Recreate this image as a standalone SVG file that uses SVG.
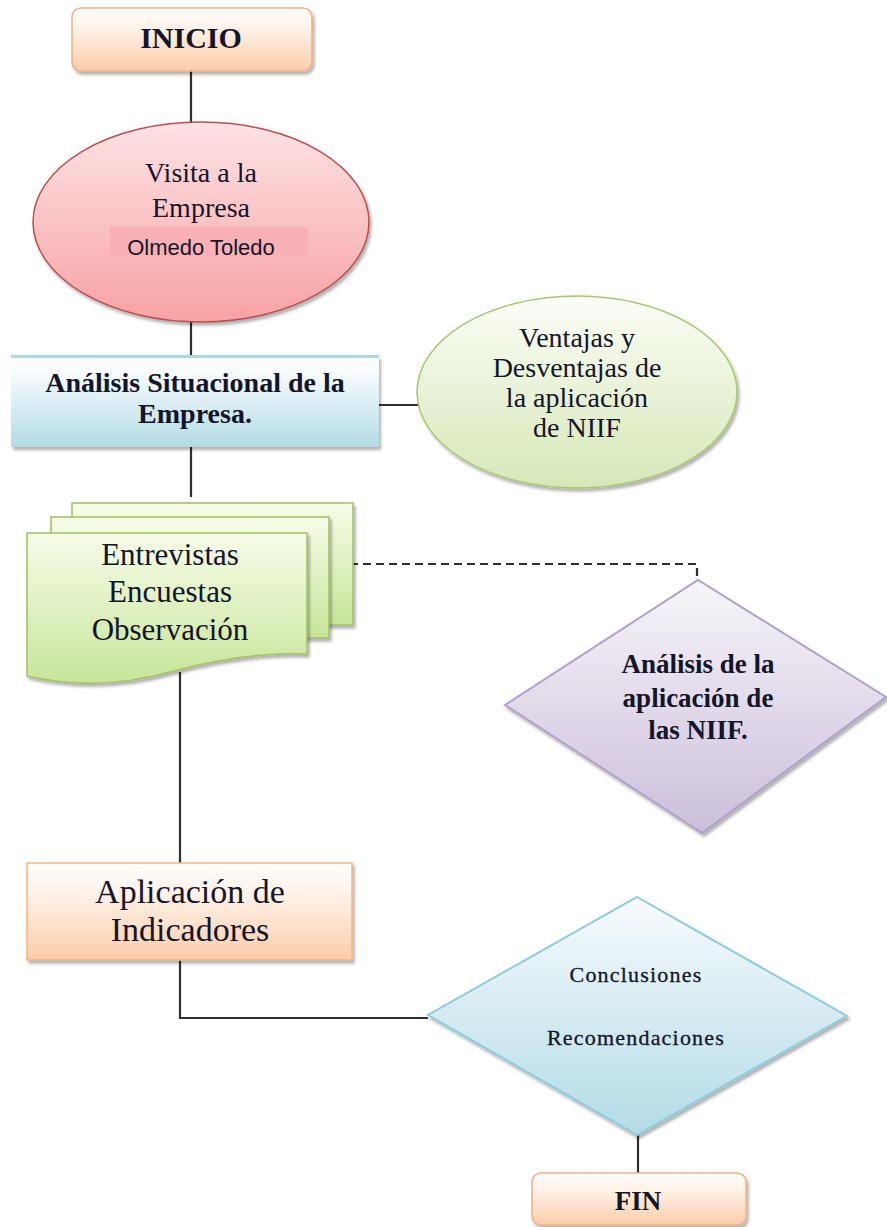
<svg xmlns="http://www.w3.org/2000/svg" width="887" height="1227" viewBox="0 0 887 1227">
<defs>
<linearGradient id="gOrange" x1="0" y1="0" x2="0" y2="1"><stop offset="0" stop-color="#fffdfb"/><stop offset="0.3" stop-color="#fff3ea"/><stop offset="1" stop-color="#fbcda9"/></linearGradient>
<linearGradient id="gPink" x1="0" y1="0" x2="0" y2="1"><stop offset="0" stop-color="#fde3e5"/><stop offset="1" stop-color="#f8a2a4"/></linearGradient>
<linearGradient id="gBlue" x1="0" y1="0" x2="0" y2="1"><stop offset="0" stop-color="#ffffff"/><stop offset="0.15" stop-color="#fafdfe"/><stop offset="1" stop-color="#b2dbe6"/></linearGradient>
<linearGradient id="gGreenE" x1="0" y1="0" x2="0" y2="1"><stop offset="0" stop-color="#fbfdf7"/><stop offset="1" stop-color="#d6e8b7"/></linearGradient>
<linearGradient id="gDoc" x1="0" y1="0" x2="0" y2="1"><stop offset="0" stop-color="#f6fce9"/><stop offset="1" stop-color="#c8e598"/></linearGradient>
<linearGradient id="gPurple" x1="0" y1="0" x2="0" y2="1"><stop offset="0" stop-color="#f7f5f9"/><stop offset="1" stop-color="#cbbfda"/></linearGradient>
<linearGradient id="gCyanD" x1="0" y1="0" x2="0" y2="1"><stop offset="0" stop-color="#f7fbfd"/><stop offset="1" stop-color="#b3dbe6"/></linearGradient>
<filter id="sh" x="-10%" y="-10%" width="125%" height="130%"><feDropShadow dx="2" dy="3" stdDeviation="1.5" flood-color="#000" flood-opacity="0.3"/></filter>
</defs>
<style>
.t{font-family:"Liberation Serif","Times New Roman",serif;fill:#15152a;text-anchor:middle}
.b{font-weight:bold}
.conn{stroke:#2f2f2f;stroke-width:2.2;fill:none}
</style>

<g id="connectors">
<line class="conn" x1="191" y1="70" x2="191" y2="123"/>
<line class="conn" x1="191" y1="321" x2="191" y2="357"/>
<line class="conn" x1="379" y1="405" x2="418" y2="405"/>
<line class="conn" x1="191" y1="447" x2="191" y2="497"/>
<path class="conn" d="M350,564 H697 V576" stroke-dasharray="8,5"/>
<line class="conn" x1="180" y1="672" x2="180" y2="863"/>
<path class="conn" d="M180,960 V1018 H428"/>
<line class="conn" x1="638" y1="1134" x2="638" y2="1174"/>
</g>

<g id="inicio">
<rect x="72" y="8" width="240" height="63" rx="9" fill="url(#gOrange)" stroke="#f2b085" stroke-width="1.5" filter="url(#sh)"/>
<text class="t b" x="191" y="48" font-size="30">INICIO</text>
</g>

<g id="visita">
<ellipse cx="201" cy="222" rx="168" ry="100" fill="url(#gPink)" stroke="#b9504e" stroke-width="1.5" filter="url(#sh)"/>
<rect x="110" y="227" width="198" height="31" fill="#f8b2b5"/>
<text class="t" x="201" y="182" font-size="28">Visita a la</text>
<text class="t" x="201" y="217" font-size="28">Empresa</text>
<text class="t" x="201" y="255" font-size="22" style="font-family:'Liberation Sans',Arial,sans-serif">Olmedo Toledo</text>
</g>

<g id="analisis">
<rect x="11" y="356" width="368" height="91" fill="url(#gBlue)" filter="url(#sh)"/>
<rect x="11" y="355" width="368" height="3" fill="#a9dbe6"/>
<text class="t b" x="195" y="392" font-size="28">Análisis Situacional de la</text>
<text class="t b" x="195" y="423" font-size="28">Empresa.</text>
</g>

<g id="ventajas">
<ellipse cx="577" cy="392" rx="160" ry="96" fill="url(#gGreenE)" stroke="#a7c771" stroke-width="1.5" filter="url(#sh)"/>
<text class="t" x="577" y="347" font-size="28">Ventajas y</text>
<text class="t" x="577" y="377" font-size="28">Desventajas de</text>
<text class="t" x="577" y="407" font-size="28">la aplicación</text>
<text class="t" x="577" y="437" font-size="28">de NIIF</text>
</g>

<g id="documentos">
<rect x="72" y="503" width="281" height="122" fill="url(#gDoc)" stroke="#9fc25f" stroke-width="1.5" filter="url(#sh)"/>
<rect x="51" y="517" width="278" height="121" fill="url(#gDoc)" stroke="#9fc25f" stroke-width="1.5" filter="url(#sh)"/>
<path d="M27,533 H307 V654 C260,652 215,660 170,672 C120,686 70,686 27,676 Z" fill="url(#gDoc)" stroke="#9fc25f" stroke-width="1.5" filter="url(#sh)"/>
<text class="t" x="170" y="565" font-size="31">Entrevistas</text>
<text class="t" x="170" y="602" font-size="31">Encuestas</text>
<text class="t" x="170" y="640" font-size="31">Observación</text>
</g>

<g id="analisis-niif">
<polygon points="698,580 886,697 702,833 505,705" fill="url(#gPurple)" stroke="#b09fc6" stroke-width="2" filter="url(#sh)"/>
<text class="t b" x="698" y="673" font-size="27">Análisis de la</text>
<text class="t b" x="698" y="707" font-size="27">aplicación de</text>
<text class="t b" x="698" y="739" font-size="27">las NIIF.</text>
</g>

<g id="indicadores">
<rect x="27" y="863" width="325" height="97" fill="url(#gOrange)" stroke="#f5b485" stroke-width="1.5" filter="url(#sh)"/>
<text class="t" x="190" y="903" font-size="34">Aplicación de</text>
<text class="t" x="190" y="941" font-size="34">Indicadores</text>
</g>

<g id="conclusiones">
<polygon points="637,897 847,1016 637,1135 428,1015" fill="url(#gCyanD)" stroke="#8ccbdb" stroke-width="2" filter="url(#sh)"/>
<text class="t" x="636" y="982" font-size="22" letter-spacing="1.2" stroke="#15152a" stroke-width="0.3">Conclusiones</text>
<text class="t" x="636" y="1045" font-size="22" letter-spacing="1.2" stroke="#15152a" stroke-width="0.3">Recomendaciones</text>
</g>

<g id="fin">
<rect x="532" y="1173" width="214" height="52" rx="9" fill="url(#gOrange)" stroke="#f2b085" stroke-width="1.5" filter="url(#sh)"/>
<text class="t b" x="638" y="1210" font-size="27">FIN</text>
</g>
</svg>
